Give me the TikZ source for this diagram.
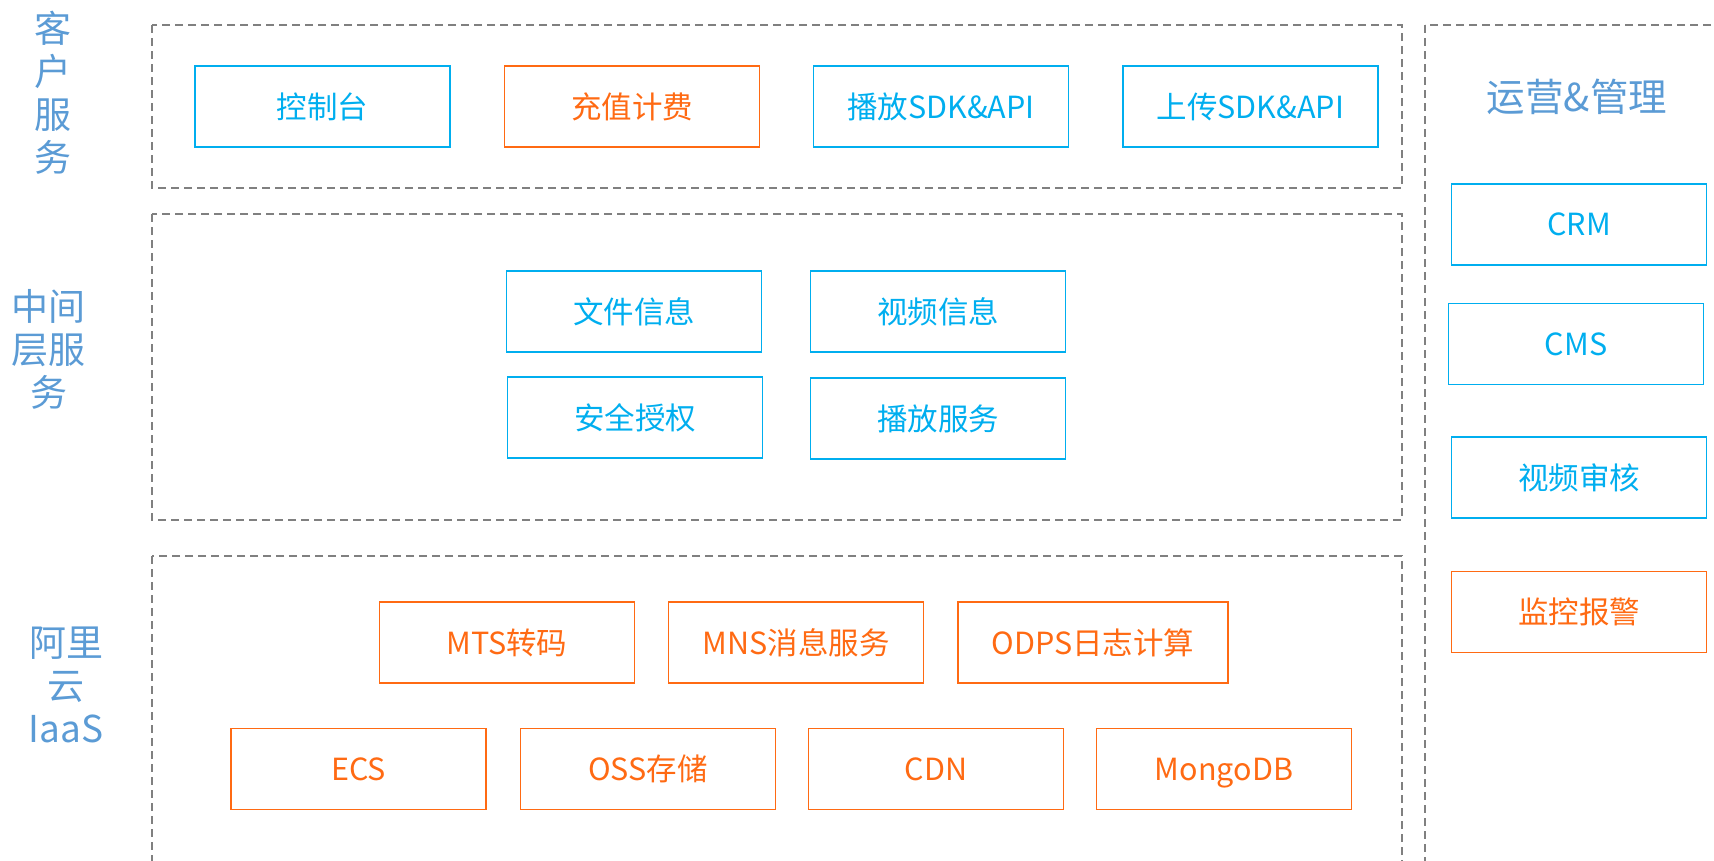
\documentclass[tikz,border=0pt]{standalone}
\usepackage{fontspec}
\usepackage{tikz}
\newfontfamily\cjk{Noto Sans CJK SC}
\definecolor{svcblue}{HTML}{00AEEF}
\definecolor{svcorange}{HTML}{FF6A13}
\definecolor{layerblue}{HTML}{5B9BD5}
\definecolor{dashgray}{HTML}{808080}
\tikzset{
  bluebox/.style={draw=svcblue, text=svcblue, line width=1.6pt, minimum width=255pt, minimum height=81pt, font=\cjk\fontsize{30.5}{36}\selectfont},
  orangebox/.style={bluebox, draw=svcorange, text=svcorange},
  layerbox/.style={draw=dashgray, line width=2pt, dash pattern=on 8pt off 5pt},
  layerlabel/.style={text=layerblue, align=center, font=\cjk\fontsize{37}{43}\selectfont}
}
\begin{document}
\begin{tikzpicture}[x=1pt,y=-1pt]
    \useasboundingbox (0,0) rectangle (1714,860);
    % layers
    \draw [layerbox] (152,25) rectangle (1402,188);
    \draw [layerbox] (152,214) rectangle (1402,520);
    \draw [layerbox] (152,556) rectangle (1402,880);
    \draw [layerbox] (1425,25) rectangle (1740,880);
    \node [layerlabel] (client) at (53,93) {客\\户\\服\\务};
    \node [layerlabel] (middle) at (49,349) {中间\\层服\\务};
    \node [layerlabel] (iaas) at (66,685) {阿里\\云\\IaaS};
    \node [layerlabel, font=\cjk\fontsize{38.5}{43}\selectfont] (ops) at (1577,97) {运营\&管理};
    % client services
    \node [bluebox] (console) at (322.5,106.5) {控制台};
    \node [orangebox] (billing) at (632,106.5) {充值计费};
    \node [bluebox] (playsdk) at (941,106.5) {播放SDK\&API};
    \node [bluebox] (uploadsdk) at (1250.5,106.5) {上传SDK\&API};
    % middle services
    \node [bluebox] (fileinfo) at (634,311.5) {文件信息};
    \node [bluebox] (videoinfo) at (938,311.5) {视频信息};
    \node [bluebox] (auth) at (635,417.5) {安全授权};
    \node [bluebox] (playsvc) at (938,418.5) {播放服务};
    % aliyun iaas
    \node [orangebox] (mts) at (507,642.5) {MTS转码};
    \node [orangebox] (mns) at (796,642.5) {MNS消息服务};
    \node [orangebox, minimum width=270pt] (odps) at (1093,642.5) {ODPS日志计算};
    \node [orangebox] (ecs) at (358.5,769) {ECS};
    \node [orangebox] (oss) at (648,769) {OSS存储};
    \node [orangebox] (cdn) at (936,769) {CDN};
    \node [orangebox, text depth=0pt] (mongo) at (1224,769) {MongoDB};
    % operations
    \node [bluebox] (crm) at (1579,224.5) {CRM};
    \node [bluebox] (cms) at (1576,344) {CMS};
    \node [bluebox] (audit) at (1579,477.5) {视频审核};
    \node [orangebox] (monitor) at (1579,612) {监控报警};
\end{tikzpicture}
\end{document}
